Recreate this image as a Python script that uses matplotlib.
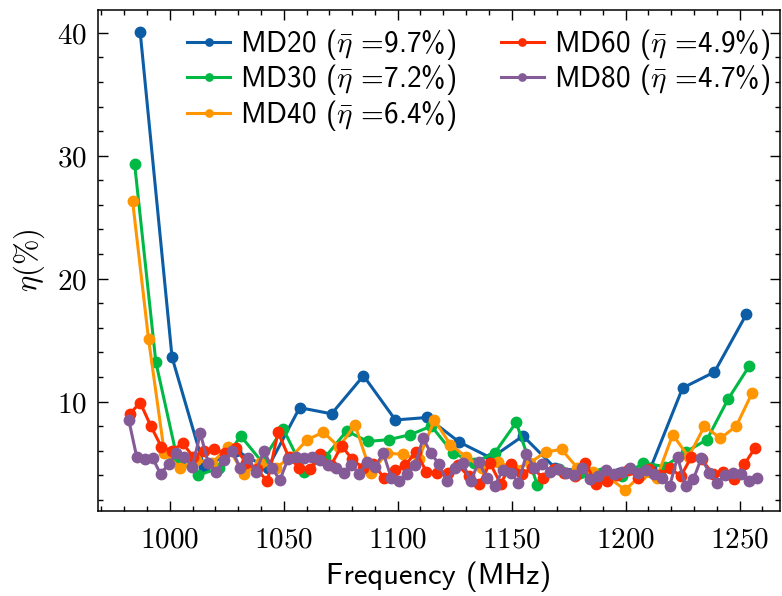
import numpy as np
import matplotlib
matplotlib.use("Agg")
import matplotlib.pyplot as plt
from matplotlib.ticker import AutoMinorLocator, FuncFormatter

# du lieu doc tu hinh (tan so MHz, eta %)
f20 = 987.0 + 14.0 * np.arange(20)
md20 = [40.1, 13.6, 4.7, 6.0, 4.6, 9.5, 9.0, 12.1, 8.5, 8.7,
        6.7, 5.4, 7.2, 4.6, 4.3, 4.2, 4.6, 11.1, 12.4, 17.1]

f30 = 984.6 + 9.3 * np.arange(30)
md30 = [29.3, 13.2, 5.4, 4.0, 4.6, 7.2, 5.1, 7.8, 4.3, 5.5,
        7.6, 6.75, 6.9, 7.3, 8.0, 5.85, 5.0, 5.85, 8.3, 3.2,
        4.5, 4.2, 4.2, 3.9, 5.0, 4.7, 5.9, 6.9, 10.2, 12.9]

f40 = 983.7 + 6.97 * np.arange(40)
md40 = [26.3, 15.1, 5.8, 4.6, 5.2, 5.0, 6.3, 4.1, 5.0, 4.6,
        5.5, 6.9, 7.5, 6.3, 8.1, 4.2, 5.8, 5.7, 5.3, 8.5,
        6.5, 5.5, 4.6, 5.1, 4.5, 5.0, 5.9, 6.1, 4.6, 4.3,
        3.8, 2.8, 4.0, 3.8, 7.3, 5.5, 8.0, 7.0, 8.0, 10.7]

f60 = 982.4 + 4.65 * np.arange(60)
md60 = [9.0, 9.9, 8.0, 6.3, 6.0, 6.6, 5.5, 6.0, 6.1, 5.8,
        6.2, 5.0, 4.5, 3.5, 7.5, 5.5, 4.6, 4.5, 5.7, 4.8,
        6.4, 5.3, 4.6, 4.9, 3.8, 4.4, 4.8, 5.9, 4.3, 4.2,
        4.2, 4.8, 3.9, 3.3, 5.0, 3.3, 4.9, 4.1, 4.6, 3.8,
        4.5, 4.2, 3.9, 5.0, 3.3, 3.5, 4.0, 4.4, 3.8, 4.5,
        4.0, 4.6, 3.9, 5.5, 5.3, 4.1, 4.3, 3.7, 4.9, 6.2]

f80 = 982.0 + 3.49 * np.arange(80)
md80 = [8.5, 5.5, 5.3, 5.4, 4.1, 4.9, 5.8, 5.5, 4.7, 7.4,
        5.0, 4.3, 5.2, 6.0, 4.6, 5.4, 4.3, 6.0, 4.6, 3.6,
        5.3, 5.5, 5.4, 5.5, 5.2, 4.8, 4.6, 4.2, 4.8, 4.1,
        5.1, 4.7, 5.8, 3.8, 3.5, 4.1, 4.8, 7.0, 5.8, 4.9,
        3.5, 4.6, 5.0, 3.5, 5.1, 3.8, 3.1, 4.4, 4.2, 3.4,
        5.7, 4.6, 4.9, 4.3, 4.5, 4.2, 4.0, 4.6, 3.7, 3.9,
        4.4, 4.1, 4.3, 4.6, 4.2, 4.4, 4.1, 3.8, 3.1, 5.5,
        3.1, 3.7, 5.4, 4.2, 3.4, 4.0, 4.2, 4.1, 3.5, 3.8]

nhan = [r"MD20 ($\bar{\eta}$ =9.7%)", r"MD30 ($\bar{\eta}$ =7.2%)",
        r"MD40 ($\bar{\eta}$ =6.4%)", r"MD60 ($\bar{\eta}$ =4.9%)",
        r"MD80 ($\bar{\eta}$ =4.7%)"]
mau = ['#0C5DA5', '#00B945', '#FF9500', '#FF2C00', '#845B97']

plt.rcParams['mathtext.fontset'] = 'cm'
plt.rcParams['font.family'] = ['cmss10', 'DejaVu Sans']
plt.rcParams['axes.formatter.use_mathtext'] = True

fig = plt.figure(figsize=(7.82, 5.96), dpi=100)
ax = fig.add_axes([0.125, 0.142, 0.872, 0.842])

for f, y, lb, c in zip([f20, f30, f40, f60, f80], [md20, md30, md40, md60, md80], nhan, mau):
    ax.plot(f, y, '-o', color=c, lw=2.2, ms=7.5, label=lb)

ax.set_xlim(968.4, 1267.6)
ax.set_ylim(1.06, 41.9)
ax.set_xticks([1000, 1050, 1100, 1150, 1200, 1250])
ax.set_yticks([10, 20, 30, 40])
ax.xaxis.set_minor_locator(AutoMinorLocator(5))
ax.yaxis.set_minor_locator(AutoMinorLocator(5))
ax.xaxis.set_major_formatter(FuncFormatter(lambda v, p: r"$%d$" % v))
ax.yaxis.set_major_formatter(FuncFormatter(lambda v, p: r"$%d$" % v))
ax.tick_params(which='both', direction='in', top=True, right=True, width=1.0, labelsize=21)
ax.tick_params(axis='x', which='major', length=7, pad=11)
ax.tick_params(axis='y', which='major', length=7, pad=8)
ax.tick_params(which='minor', length=3.5)
for s in ax.spines.values():
    s.set_linewidth(1.1)

ax.set_xlabel('Frequency (MHz)', fontsize=22, labelpad=6)
ax.set_ylabel(r'$\eta (\%)$', fontsize=22, labelpad=7)

ax.legend(loc='upper left', bbox_to_anchor=(0.093, 1.018), ncol=2, frameon=False,
          fontsize=21, markerscale=0.7, handlelength=1.45, columnspacing=1.55,
          labelspacing=0.02, handletextpad=0.35)

fig.savefig('out.png', dpi=100)
